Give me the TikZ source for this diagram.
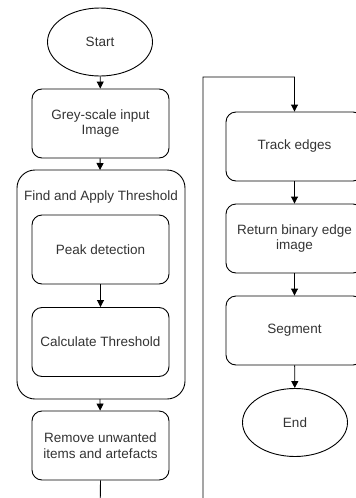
\documentclass[tikz,border=0pt]{standalone}
\usepackage{fontspec}
\setmainfont{Liberation Sans}
\usetikzlibrary{arrows.meta,shapes.geometric}
\begin{document}
\begin{tikzpicture}[x=1pt,y=-1pt,
  line width=0.9pt,
  every node/.style={font=\fontsize{13.5}{15.5}\selectfont, text=black!80, align=center},
  procbox/.style={draw, rounded corners=10pt, minimum width=137pt, minimum height=69pt, inner sep=0pt},
  term/.style={draw, ellipse, minimum width=105pt, minimum height=68pt, inner sep=0pt},
  arr/.style={-{Triangle[length=7pt,width=7pt]}}]
\clip (0,0) rectangle (356,498);
\useasboundingbox (0,0) rectangle (356,498);
\node[term] (start) at (100,42) {Start};
\node[procbox] (grey) at (100.5,123.5) {Grey-scale input\\Image};
\draw[rounded corners=18pt] (17,170) rectangle (185,399);
\node (thr) at (101,197) {Find and Apply Threshold};
\coordinate (contop) at (100,170);
\coordinate (conbot) at (100,399);
\node[procbox] (peak) at (100.5,249.5) {Peak detection};
\node[procbox] (calc) at (100.5,342) {Calculate Threshold};
\node[procbox] (remove) at (100.5,445.5) {Remove unwanted\\items and artefacts};
\node[procbox] (track) at (294.5,146.5) {Track edges};
\node[procbox] (ret) at (294.5,238.5) {Return binary edge\\image};
\node[procbox] (seg) at (294.5,330.5) {Segment};
\node[term] (end) at (295,422.5) {End};
\coordinate (c1) at (100,520);
\coordinate (c2) at (203,520);
\coordinate (c3) at (203,77);
\coordinate (c4) at (294.5,77);
\draw[arr] (start) -- (grey);
\draw[arr] (grey) -- (contop);
\draw[arr] (peak) -- (calc);
\draw[arr] (conbot) -- (remove);
\draw[arr] (remove.south) -- (c1) -- (c2) -- (c3) -- (c4) -- (track.north);
\draw[arr] (track) -- (ret);
\draw[arr] (ret) -- (seg);
\draw[arr] (seg) -- (end);
\end{tikzpicture}
\end{document}
